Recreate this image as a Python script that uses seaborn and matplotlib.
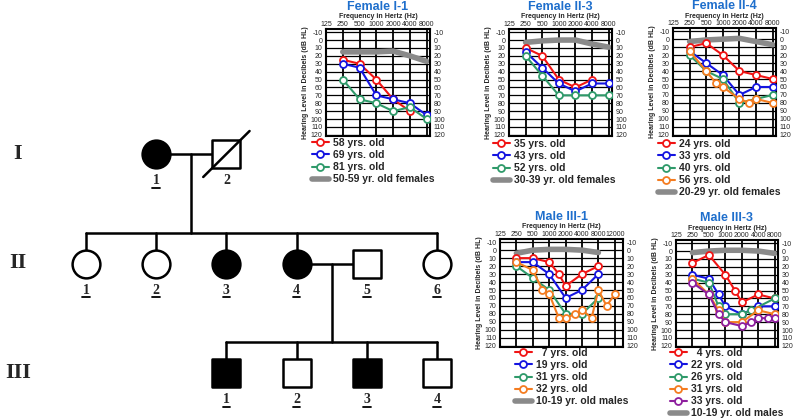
import numpy as np
import pandas as pd
import matplotlib
matplotlib.use('Agg')
import matplotlib.pyplot as plt
import seaborn as sns
from matplotlib.lines import Line2D

sns.set_theme(style='white')
plt.rcParams['font.family'] = ['Liberation Sans', 'DejaVu Sans']
plt.rcParams['axes.unicode_minus'] = False

# ---------------- pedigree ----------------
ped_ids = ['I-1', 'I-2', 'II-1', 'II-2', 'II-3', 'II-4', 'II-5', 'II-6',
           'III-1', 'III-2', 'III-3', 'III-4']
ped_gen = [1, 1, 2, 2, 2, 2, 2, 2, 3, 3, 3, 3]
ped_slot = [1, 2, 0, 1, 2, 3, 4, 5, 2, 3, 4, 5]
ped_sex = ['F', 'M', 'F', 'F', 'F', 'F', 'M', 'F', 'M', 'M', 'M', 'M']
ped_affected = [1, 0, 0, 0, 1, 1, 0, 0, 1, 0, 1, 0]
ped_deceased = [0, 1, 0, 0, 0, 0, 0, 0, 0, 0, 0, 0]
ped_examined = [1, 0, 1, 1, 1, 1, 1, 1, 1, 1, 1, 1]
ped_number = ['1', '2', '1', '2', '3', '4', '5', '6', '1', '2', '3', '4']
couples = [('I-1', 'I-2'), ('II-4', 'II-5')]
offspring = [['II-1', 'II-2', 'II-3', 'II-4', 'II-6'],
             ['III-1', 'III-2', 'III-3', 'III-4']]
gen_names = ['I', 'II', 'III']

# ---------------- audiograms ----------------
std_freq = [250, 500, 1000, 2000, 4000, 8000]

fI1_ages = ['58 yrs. old', '69 yrs. old', '81 yrs. old']
fI1_freq = [[250, 500, 1000, 2000, 4000], std_freq, std_freq]
fI1_db = [[25, 30, 50, 75, 90], [30, 35, 70, 75, 80, 95], [50, 75, 80, 90, 85, 100]]
fI1_norm = [15, 15, 15, 14, 20, 27]

fII3_ages = ['35 yrs. old', '43 yrs. old', '52 yrs. old']
fII3_freq = [[250, 500, 1000, 2000, 4000], std_freq, std_freq]
fII3_db = [[10, 20, 50, 60, 50], [15, 35, 55, 65, 55, 55], [20, 45, 70, 70, 70, 70]]
fII3_norm = [3, 1, 0, 0, 5, 9]

fII4_ages = ['24 yrs. old', '33 yrs. old', '40 yrs. old', '56 yrs. old']
fII4_freq = [std_freq, std_freq, std_freq,
             [250, 500, 750, 1000, 2000, 3000, 4000, 8000]]
fII4_db = [[10, 5, 20, 40, 45, 50], [15, 30, 45, 70, 60, 60],
           [20, 40, 50, 80, 75, 70], [15, 40, 55, 60, 75, 80, 75, 80]]
fII4_norm = [3, 1, 0, -1, 3, 7]

mIII1_ages = ['  7 yrs. old', '19 yrs. old', '31 yrs. old', '32 yrs. old']
mIII1_freq = [[250, 500, 1000, 1500, 2000, 4000, 8000], std_freq, std_freq,
              [250, 500, 750, 1000, 1500, 2000, 3000, 4000, 6000, 8000, 10000, 12000]]
mIII1_db = [[10, 10, 15, 30, 45, 30, 20], [15, 15, 30, 60, 50, 30],
            [20, 35, 50, 80, 80, 60],
            [15, 25, 50, 55, 85, 85, 80, 75, 85, 50, 70, 55]]
mIII1_norm = [4, 0, -1, -1, 0, 3]

mIII3_ages = ['  4 yrs. old', '22 yrs. old', '26 yrs. old', '31 yrs. old', '33 yrs. old']
mIII3_freq = [[250, 500, 1000, 1500, 2000, 4000, 8000],
              [250, 500, 750, 1000, 2000, 4000, 8000],
              [250, 500, 750, 1000, 2000, 3000, 8000],
              [250, 500, 750, 1000, 2000, 4000, 8000],
              [250, 500, 750, 1000, 2000, 3000, 4000, 6000, 8000]]
mIII3_db = [[15, 5, 30, 50, 65, 55, 60], [30, 35, 55, 70, 80, 70, 70],
            [35, 40, 70, 80, 80, 75, 60], [35, 55, 75, 90, 90, 75, 80],
            [40, 55, 80, 90, 95, 90, 85, 85, 85]]
mIII3_norm = [2, 0, -1, -1, 0, 3]

series_colors = ['#f01414', '#1414e0', '#2f9a6a', '#f47c20', '#8e1f9e']
norm_color = '#8a8a8a'
title_color = '#1f6fcc'

W, H = 800, 420
fig = plt.figure(figsize=(W / 100, H / 100), dpi=100)

# pedigree axes: x = slot, y = generation
ped = fig.add_axes([0, 0, 1, 1])
sx, x0 = 70.2, 86
sy, y0 = 109.5, 154
ped.set_xlim(-x0 / sx, (W - x0) / sx)
ped.set_ylim(1 + (H - y0) / sy, 1 - y0 / sy)
ped.axis('off')

pos = {i: (s, g) for i, s, g in zip(ped_ids, ped_slot, ped_gen)}
lw = 1.8
for (a, b), kids in zip(couples, offspring):
    (xa, ya), (xb, yb) = pos[a], pos[b]
    ped.plot([xa, xb], [ya, yb], color='black', lw=lw, zorder=1)
    xm = (xa + xb) / 2
    ks = [pos[k][0] for k in kids]
    kg = pos[kids[0]][1]
    ysib = kg - 0.28
    ped.plot([xm, xm], [ya, ysib], color='black', lw=lw, zorder=1)
    ped.plot([min(ks), max(ks)], [ysib, ysib], color='black', lw=lw, zorder=1)
    for k in ks:
        ped.plot([k, k], [ysib, kg], color='black', lw=lw, zorder=1)

for i, s, g, sex, aff, dec, ex, num in zip(ped_ids, ped_slot, ped_gen, ped_sex,
                                            ped_affected, ped_deceased,
                                            ped_examined, ped_number):
    ped.scatter([s], [g], marker='o' if sex == 'F' else 's',
                s=(20 if sex == 'F' else 19.5) ** 2,
                facecolor='black' if aff else 'white', edgecolor='black',
                linewidth=lw, zorder=3)
    if dec:
        ped.plot([s - 0.33, s + 0.33], [g + 0.21, g - 0.21], color='black',
                 lw=lw, zorder=4)
    ped.text(s, g + 0.245, num, ha='center', va='center', fontsize=10,
             fontweight='bold', family='Liberation Serif')
    if ex:
        ped.plot([s - 0.055, s + 0.055], [g + 0.31, g + 0.31], color='black',
                 lw=1.3, zorder=4)

for g, name in enumerate(gen_names, start=1):
    ped.text((18 - x0) / sx, g, name, ha='center', va='center', fontsize=16,
             fontweight='bold', family='Liberation Serif')


def fwd(f):
    f = np.clip(np.asarray(f, dtype=float), 1, None)
    return np.where(f <= 8000, np.log2(f / 125), 6 + (f - 8000) / 4000)


def inv(p):
    p = np.asarray(p, dtype=float)
    return np.where(p <= 6, 125 * 2.0 ** np.minimum(p, 30), 8000 + (p - 6) * 4000)


def audiogram(px, title, ages, freqs, dbs, norm, norm_label, leg_xy,
              xmax=6.2, ticks=(125, 250, 500, 1000, 2000, 4000, 8000)):
    left, top, right, bottom = px
    h = bottom - top
    ax = fig.add_axes([left / W, 1 - bottom / H, (right - left) / W, h / H])
    ax.set_xscale('function', functions=(fwd, inv))
    rows = []
    for a, fr, d in zip(ages, freqs, dbs):
        rows += [{'age': a, 'freq': f, 'db': v} for f, v in zip(fr, d)]
    df = pd.DataFrame(rows)
    sns.lineplot(x=std_freq, y=norm, color=norm_color, linewidth=4,
                 estimator=None, ax=ax, zorder=2)
    pal = dict(zip(ages, series_colors))
    sns.lineplot(data=df, x='freq', y='db', hue='age', hue_order=ages,
                 palette=pal, marker='o', markersize=5, linewidth=1.5,
                 estimator=None, sort=False, legend=False, ax=ax, zorder=3)
    for ln in ax.lines[1:]:
        ln.set_markeredgecolor(ln.get_color())
        ln.set_markerfacecolor('white')
        ln.set_markeredgewidth(1.3)
    ax.set_xlim(125, float(inv(xmax)))
    ax.set_ylim(121.5, -14)
    ax.set_xticks(list(ticks))
    ax.set_xticklabels([str(t) for t in ticks])
    ax.set_yticks(range(-10, 121, 10))
    ax.xaxis.tick_top()
    ax.tick_params(axis='x', top=False, bottom=False, labeltop=True,
                   labelbottom=False, labelsize=5, pad=0.8, length=0)
    ax.tick_params(axis='y', left=False, right=False, labelleft=True,
                   labelright=True, labelsize=5, pad=2.5, length=0)
    ax.grid(True, axis='x', color='black', lw=1.3)
    ax.grid(True, axis='y', color='black', lw=0.9)
    for sp in ax.spines.values():
        sp.set_color('black')
        sp.set_linewidth(1.5)
    ax.set_xlabel('')
    ax.text(0.5, 1 + 12 / h, 'Frequency in Hertz (Hz)', transform=ax.transAxes,
            ha='center', va='center', fontsize=5, fontweight='bold')
    ax.set_ylabel('Hearing Level in Decibels (dB HL)', fontsize=5,
                  fontweight='bold', labelpad=1.5)
    ax.set_title(title, color=title_color, fontsize=9, fontweight='bold',
                 y=1 + 22 / h, pad=0, va='center')
    handles = [Line2D([], [], color=c, marker='o', mfc='white', mec=c, ms=5,
                      mew=1.3, lw=1.5) for c in series_colors[:len(ages)]]
    handles.append(Line2D([], [], color=norm_color, lw=4))
    fig.legend(handles, list(ages) + [norm_label], loc='upper left',
               bbox_to_anchor=(leg_xy[0] / W, 1 - leg_xy[1] / H), frameon=False,
               prop={'weight': 'bold', 'size': 7.5}, handlelength=1.6,
               handletextpad=0.4, labelspacing=0.2, borderpad=0,
               borderaxespad=0)
    return ax


audiogram((326, 29, 430, 136), 'Female I-1', fI1_ages, fI1_freq, fI1_db,
          fI1_norm, '50-59 yr. old females', (312, 138))
audiogram((509, 29, 612, 136), 'Female II-3', fII3_ages, fII3_freq, fII3_db,
          fII3_norm, '30-39 yr. old females', (493, 139))
audiogram((673, 28, 776, 136), 'Female II-4', fII4_ages, fII4_freq, fII4_db,
          fII4_norm, '20-29 yr. old females', (658, 139))
audiogram((500, 239, 623, 347), 'Male III-1', mIII1_ages, mIII1_freq, mIII1_db,
          mIII1_norm, '10-19 yr. old males', (515, 348), xmax=7.5,
          ticks=(125, 250, 500, 1000, 2000, 4000, 8000, 12000))
audiogram((676, 240, 778, 347), 'Male III-3', mIII3_ages, mIII3_freq, mIII3_db,
          mIII3_norm, '10-19 yr. old males', (670, 348))

fig.savefig('out.png', dpi=100)
